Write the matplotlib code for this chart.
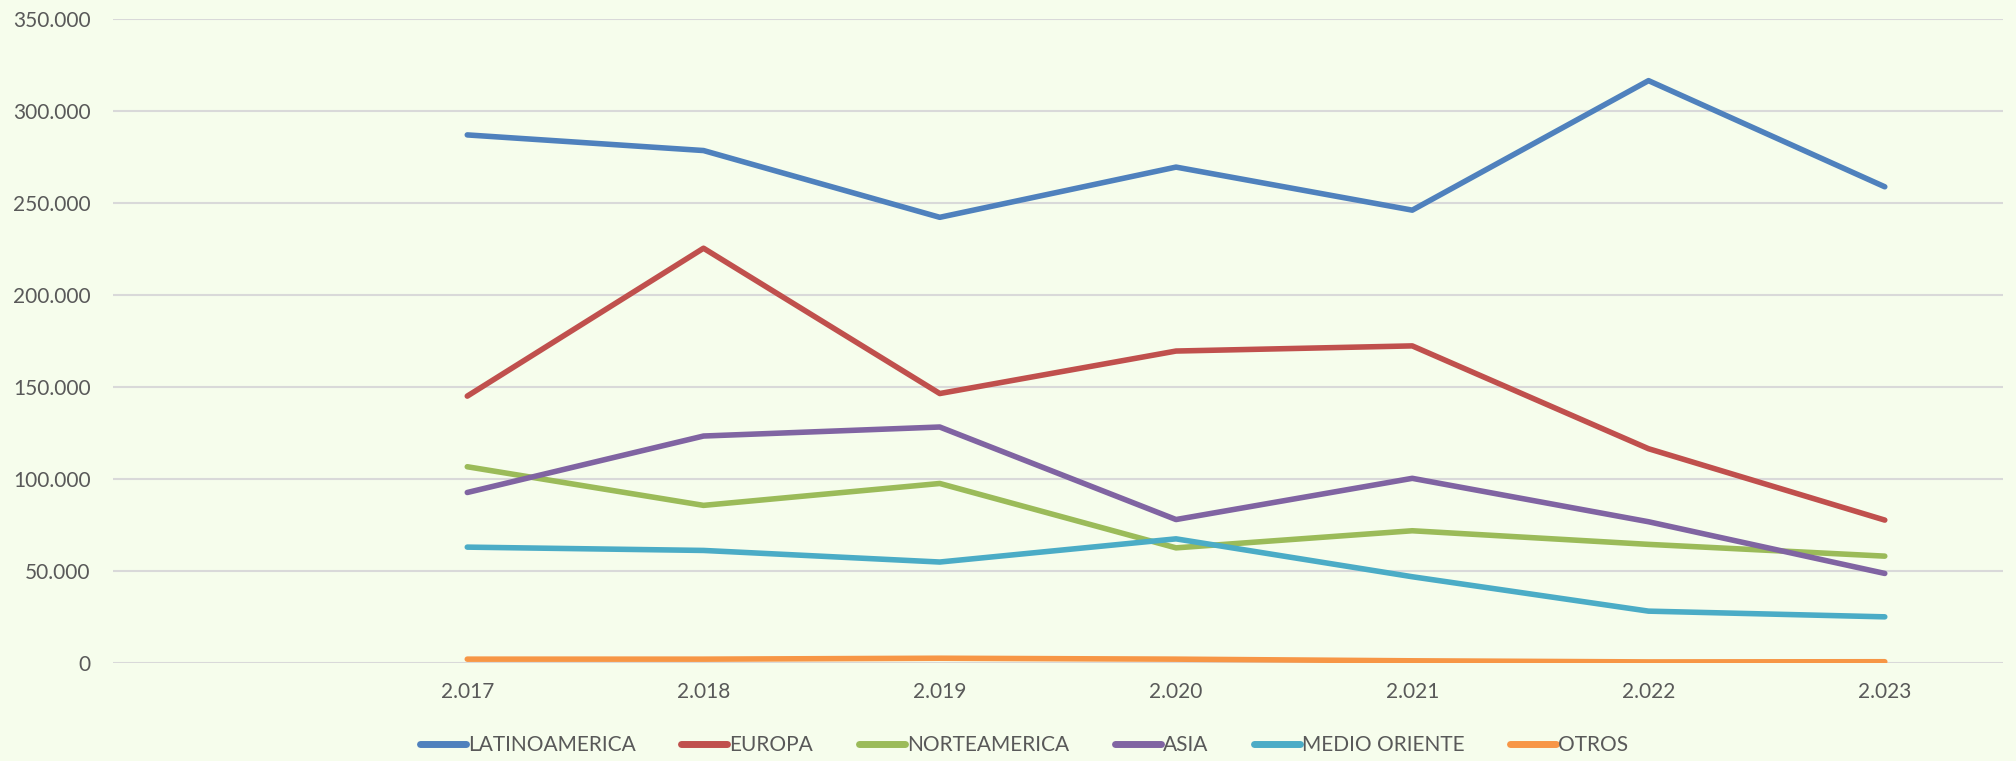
import matplotlib
matplotlib.use("Agg")
import matplotlib.pyplot as plt
from matplotlib.ticker import FuncFormatter

# ------- data -------
years = ["", "2.017", "2.018", "2.019", "2.020", "2.021", "2.022", "2.023"]
latinoamerica = [None, 287000, 278500, 242200, 269500, 246100, 316500, 258800]
europa = [None, 145000, 225400, 146400, 169500, 172300, 116400, 77600]
norteamerica = [None, 106600, 85600, 97500, 62500, 71800, 64400, 58000]
asia = [None, 92600, 123300, 128200, 77900, 100300, 76700, 48600]
medio_oriente = [None, 62900, 61100, 54800, 67400, 46800, 28100, 25000]
otros = [None, 2000, 2000, 2500, 2000, 1100, 500, 600]

series = [("LATINOAMERICA", latinoamerica, "#4F81BD"),
          ("EUROPA", europa, "#C0504D"),
          ("NORTEAMERICA", norteamerica, "#9BBB59"),
          ("ASIA", asia, "#8064A2"),
          ("MEDIO ORIENTE", medio_oriente, "#4BACC6"),
          ("OTROS", otros, "#F79646")]

bg = "#F6FDEC"
txt = "#595959"
plt.rcParams['font.family'] = ['Lato', 'DejaVu Sans']

fig = plt.figure(figsize=(20.16, 7.61), dpi=100, facecolor=bg)
ax = fig.add_axes([0.056, 0.129, 0.9375, 0.846], facecolor=bg)

x = list(range(len(years)))
for name, vals, col in series:
	# first category is empty in the source chart
	xs = [i for i, v in zip(x, vals) if v is not None]
	ys = [v for v in vals if v is not None]
	ax.plot(xs, ys, color=col, lw=4.0, solid_capstyle='round',
			solid_joinstyle='round', label=name)

ax.set_ylim(0, 350000)
ax.set_xlim(-0.5, len(years) - 0.5)
ax.set_yticks(range(0, 350001, 50000))
ax.yaxis.set_major_formatter(FuncFormatter(lambda v, p: f"{int(v):,}".replace(",", ".")))
ax.set_xticks(x)
ax.set_xticklabels(years)
ax.grid(axis='y', color='#D9D9D9', lw=1.5)
ax.set_axisbelow(True)
for s in ax.spines.values():
	s.set_visible(False)
ax.tick_params(length=0, labelsize=15, colors=txt)
ax.tick_params(axis='x', pad=14)
ax.tick_params(axis='y', pad=16)

leg = fig.legend(loc='center', bbox_to_anchor=(0.508, 0.021), ncol=6, frameon=False,
				 fontsize=15, handlelength=2.2, handletextpad=0.1, columnspacing=2.2)
for t in leg.get_texts():
	t.set_color(txt)
for l in leg.get_lines():
	l.set_linewidth(5)

fig.savefig("out.png", dpi=100, facecolor=bg)
